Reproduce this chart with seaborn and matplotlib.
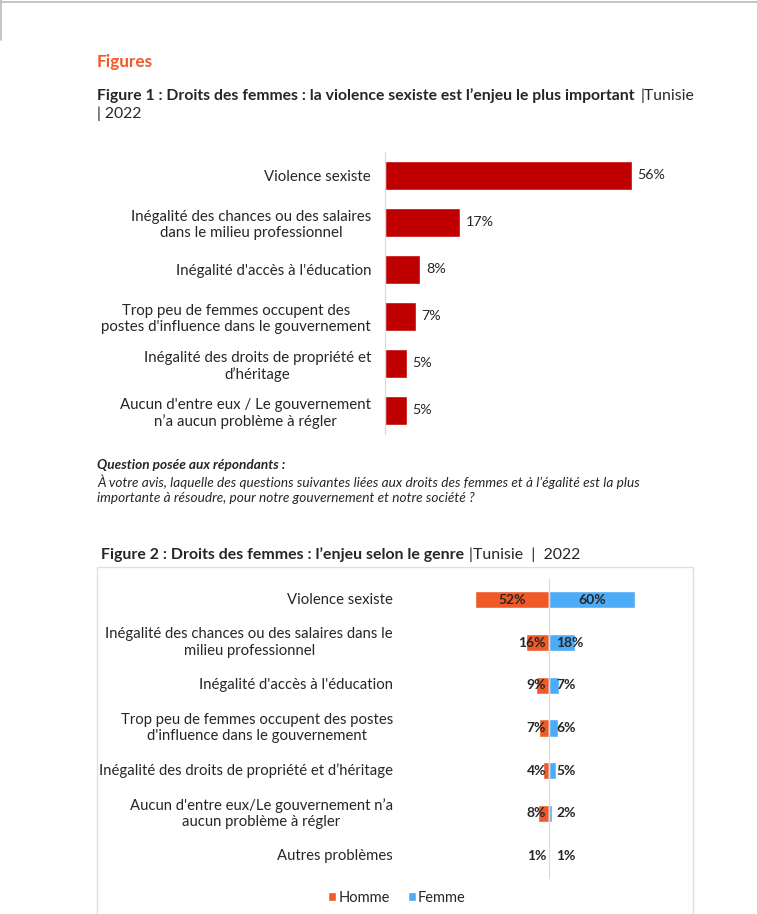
import matplotlib
matplotlib.use("Agg")
import matplotlib.pyplot as plt
import pandas as pd
import seaborn as sns
from matplotlib.patches import Patch, Rectangle
from matplotlib.lines import Line2D
import matplotlib.transforms as mtransforms

# data figure 1
cats1 = ["Violence sexiste",
         "Inégalité des chances ou des salaires\ndans le milieu professionnel",
         "Inégalité d'accès à l'éducation",
         "Trop peu de femmes occupent des\npostes d'influence dans le gouvernement",
         "Inégalité des droits de propriété et\nd’héritage",
         "Aucun d'entre eux / Le gouvernement\nn’a aucun problème à régler"]
vals1 = [56, 17, 8, 7, 5, 5]

# data figure 2
cats2 = ["Violence sexiste",
         "Inégalité des chances ou des salaires dans le\nmilieu professionnel",
         "Inégalité d'accès à l'éducation",
         "Trop peu de femmes occupent des postes\nd'influence dans le gouvernement",
         "Inégalité des droits de propriété et d’héritage",
         "Aucun d'entre eux/Le gouvernement n’a\naucun problème à régler",
         "Autres problèmes"]
homme = [52, 16, 9, 7, 4, 8, 1]
femme = [60, 18, 7, 6, 5, 2, 1]
genres = ["Homme", "Femme"]

RED = "#C00000"
ORANGE = "#F05A28"
BLUE = "#4DACF8"
GRID = "#D9D9D9"

sns.set_style("white")
plt.rcParams['font.family'] = ['Lato', 'DejaVu Sans']

W, H = 757, 914
fig = plt.figure(figsize=(W / 100, H / 100), dpi=100)


def fx(px):
    return px / W


def fy(py):
    return 1 - py / H


renderer = fig.canvas.get_renderer()

# page border lines
fig.add_artist(Line2D([0, 1], [fy(1.5), fy(1.5)], color="#BBBBBB", lw=1.2))
fig.add_artist(Line2D([fx(0.5), fx(0.5)], [fy(0), fy(40)], color="#BBBBBB", lw=1.2))

fig.text(fx(97), fy(62), "Figures", color="#EE5A2C", fontsize=12.3, fontweight="bold", va="center")

t1 = fig.text(fx(97), fy(96), "Figure 1 : Droits des femmes : la violence sexiste est l’enjeu le plus important",
              fontsize=11.3, fontweight="bold", va="center")
bb = t1.get_window_extent(renderer=renderer)
fig.text(bb.x1 / W + fx(6), fy(96), "|Tunisie", fontsize=11.3, va="center")
fig.text(fx(97), fy(114), "| 2022", fontsize=11.3, va="center")

# ---- figure 1 chart
ax1 = fig.add_axes([fx(385), fy(434), fx(295), (434 - 152) / H])
sns.barplot(x=vals1, y=cats1, color=RED, orient="h", width=0.6, ax=ax1, saturation=1)
ax1.set_xlim(0, 295 / 4.41)
ax1.bar_label(ax1.containers[0], labels=[f"{v}%" for v in vals1], padding=4, fontsize=10.3)
ax1.set_xticks([])
ax1.set_xlabel("")
ax1.set_ylabel("")
ax1.tick_params(axis="y", length=0, pad=10, labelsize=10.8)
for lab in ax1.get_yticklabels():
    lab.set_multialignment("center")
for s in ["top", "right", "bottom"]:
    ax1.spines[s].set_visible(False)
ax1.spines["left"].set_color(GRID)

fig.text(fx(97), fy(465), "Question posée aux répondants :", fontsize=9.8, fontweight="bold",
         style="italic", va="center")
fig.text(fx(97), fy(482), "À votre avis, laquelle des questions suivantes liées aux droits des femmes et à l’égalité est la plus",
         fontsize=9.8, style="italic", va="center")
fig.text(fx(97), fy(498), "importante à résoudre, pour notre gouvernement et notre société ?",
         fontsize=9.8, style="italic", va="center")

# ---- figure 2
t2 = fig.text(fx(101), fy(555), "Figure 2 : Droits des femmes : l’enjeu selon le genre",
              fontsize=11.4, fontweight="bold", va="center")
bb = t2.get_window_extent(renderer=renderer)
fig.text(bb.x1 / W + fx(5), fy(555), "|Tunisie  |  2022", fontsize=11.4, va="center")

fig.add_artist(Rectangle((fx(97), fy(940)), fx(693 - 97), (940 - 567) / H, transform=fig.transFigure,
                         fill=False, edgecolor="#E0E0E0", lw=1))

df2 = pd.DataFrame({
    "cat": cats2 * 2,
    "genre": ["Homme"] * len(cats2) + ["Femme"] * len(cats2),
    "val": [-v for v in homme] + femme,
})

ax2 = fig.add_axes([fx(420), fy(877.5), fx(258), (877.5 - 578.5) / H])
sns.barplot(data=df2, x="val", y="cat", hue="genre", hue_order=genres, dodge=False,
            palette=[ORANGE, BLUE], orient="h", width=0.4, ax=ax2, saturation=1, legend=False)
ax2.set_xlim(-129 / 1.43, 129 / 1.43)
ax2.set_xticks([])
ax2.set_xlabel("")
ax2.set_ylabel("")
for s in ["top", "right", "bottom"]:
    ax2.spines[s].set_visible(False)
ax2.spines["left"].set_position(("data", 0))
ax2.spines["left"].set_color(GRID)
ax2.set_yticks([i - 0.5 for i in range(len(cats2) + 1)])
ax2.set_yticklabels([])
ax2.tick_params(axis="y", length=3, color=GRID, direction="out")
ax2.set_ylim(len(cats2) - 0.5, -0.5)

trans = mtransforms.blended_transform_factory(fig.transFigure, ax2.transData)
for i, c in enumerate(cats2):
    ax2.text(fx(393), i, c, transform=trans, ha="right", va="center", multialignment="center", fontsize=10.7)

for i, (h, f) in enumerate(zip(homme, femme)):
    if h > 30:
        ax2.text(-h / 2, i, f"{h}%", ha="center", va="center", fontsize=10, fontweight="bold")
    else:
        ax2.annotate(f"{h}%", xy=(0, i), xytext=(-3, 0), textcoords="offset pixels",
                     ha="right", va="center", fontsize=10, fontweight="bold")
    if f > 30:
        ax2.text(f / 2, i, f"{f}%", ha="center", va="center", fontsize=10, fontweight="bold")
    else:
        ax2.annotate(f"{f}%", xy=(0, i), xytext=(7, 0), textcoords="offset pixels",
                     ha="left", va="center", fontsize=10, fontweight="bold")

handles = [Patch(facecolor=ORANGE, label="Homme"), Patch(facecolor=BLUE, label="Femme")]
fig.legend(handles=handles, loc="center", bbox_to_anchor=(fx(397), fy(898)), ncol=2, frameon=False,
           handlelength=0.55, handleheight=0.55, handletextpad=0.15, columnspacing=1.2, fontsize=10.5)

fig.savefig("out.png", dpi=100)
